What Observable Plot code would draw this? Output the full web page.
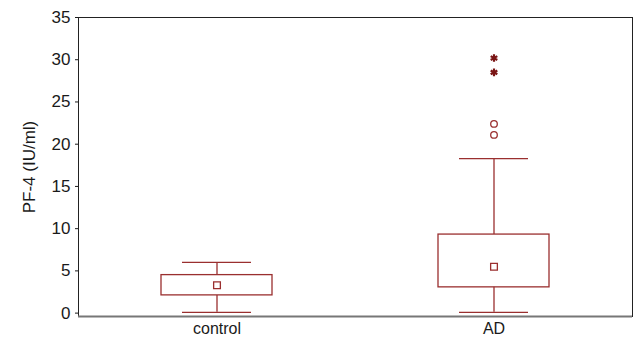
<!DOCTYPE html>
<html>
<head>
<meta charset="utf-8">
<script src="https://cdn.jsdelivr.net/npm/d3@7"></script>
<script src="https://cdn.jsdelivr.net/npm/@observablehq/plot@0.6"></script>
<style>
  html, body { margin: 0; padding: 0; background: #fff; }
  svg { display: block; }
</style>
</head>
<body>
<div id="chart"></div>
<script>
const groups = ["control", "AD"];
const whiskerLow = [0.1, 0.1];
const boxLow = [2.1, 3.05];
const mean = [3.3, 5.5];
const boxHigh = [4.5, 9.3];
const whiskerHigh = [6.0, 18.3];
const outlierGroup = ["AD", "AD"];
const outlierValues = [22.4, 21.1];
const extremeGroup = ["AD", "AD"];
const extremeValues = [30.2, 28.5];
const yTicks = [0, 5, 10, 15, 20, 25, 30, 35];

const stats = groups.map((g, i) => ({
  group: g, lo: whiskerLow[i], q1: boxLow[i], mean: mean[i], q3: boxHigh[i], hi: whiskerHigh[i]
}));
const outliers = outlierGroup.map((g, i) => ({group: g, value: outlierValues[i]}));
const extremes = extremeGroup.map((g, i) => ({group: g, value: extremeValues[i]}));

const red = "#9a2f2f";

const chart = Plot.plot({
  width: 636,
  height: 339,
  marginLeft: 78,
  marginRight: 4,
  marginTop: 17,
  marginBottom: 23,
  style: {fontFamily: "Liberation Sans, Arial, sans-serif", fontSize: "17px", color: "#1a1a1a", background: "#fff"},
  x: {domain: groups, type: "band", paddingInner: 0.6, paddingOuter: 0.3, axis: null},
  y: {domain: [-0.4, 35], axis: null},
  marks: [
    Plot.frame({anchor: "left", stroke: "#222", strokeWidth: 1}),
    Plot.frame({anchor: "top", stroke: "#222", strokeWidth: 1}),
    Plot.frame({anchor: "right", stroke: "#222", strokeWidth: 1}),
    Plot.ruleX(stats, {x: "group", y1: "lo", y2: "q1", stroke: red, strokeWidth: 1.3}),
    Plot.ruleX(stats, {x: "group", y1: "q3", y2: "hi", stroke: red, strokeWidth: 1.3}),
    Plot.tickY(stats, {x: "group", y: "lo", stroke: red, strokeWidth: 1.3, insetLeft: 21, insetRight: 21}),
    Plot.tickY(stats, {x: "group", y: "hi", stroke: red, strokeWidth: 1.3, insetLeft: 21, insetRight: 21}),
    Plot.barY(stats, {x: "group", y1: "q1", y2: "q3", fill: "none", stroke: red, strokeWidth: 1.3}),
    Plot.dot(stats, {x: "group", y: "mean", symbol: "square", r: 3.8, stroke: red, fill: "#fff", strokeWidth: 1.3}),
    Plot.dot(outliers, {x: "group", y: "value", symbol: "circle", r: 3.3, stroke: red, fill: "#fff", strokeWidth: 1.3}),
    Plot.dot(extremes, {x: "group", y: "value", symbol: "asterisk", r: 3.6, stroke: "#7a1515", strokeWidth: 2.2}),
    Plot.axisY({ticks: yTicks, tickSize: 3, tickPadding: 5, fontSize: 17, label: "PF-4 (IU/ml)", labelAnchor: "center", labelArrow: "none", labelOffset: 56}),
    Plot.axisX({tickSize: 0, tickPadding: 6, fontSize: 16, label: null}),
    Plot.ruleY([-0.4], {stroke: "#777", strokeWidth: 2})
  ]
});
document.getElementById("chart").appendChild(chart);
</script>
</body>
</html>
